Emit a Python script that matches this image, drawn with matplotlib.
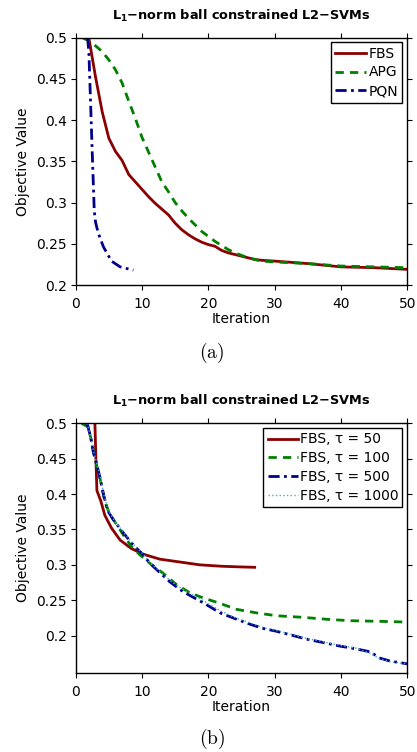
import matplotlib
matplotlib.use("Agg")
import matplotlib.pyplot as plt
from matplotlib.ticker import FormatStrFormatter

plt.rcParams["font.family"] = ["DejaVu Sans"]
plt.rcParams["mathtext.fontset"] = "dejavusans"

# ---- panel (a): FBS vs APG vs PQN ----
fbs_iter = [2, 3, 4, 5, 6, 7, 8, 9, 10, 11, 12, 13, 14, 15, 16, 17, 18, 19, 20,
            21, 22, 23, 24, 25, 26, 27, 28, 30, 35, 40, 45, 50]
fbs_obj = [0.499, 0.452, 0.410, 0.378, 0.362, 0.351, 0.334, 0.325, 0.316, 0.307,
           0.299, 0.292, 0.285, 0.275, 0.267, 0.261, 0.256, 0.252, 0.249, 0.247,
           0.242, 0.239, 0.237, 0.235, 0.233, 0.231, 0.230, 0.229, 0.226, 0.222,
           0.221, 0.219]

apg_iter = [1, 2, 3, 4, 5, 6, 7, 8, 9, 10, 11, 12, 13, 14, 15, 16, 17, 18, 19, 20,
            21, 22, 23, 24, 25, 26, 27, 28, 30, 35, 40, 45, 50]
apg_obj = [0.500, 0.496, 0.490, 0.483, 0.473, 0.461, 0.445, 0.423, 0.402, 0.379,
           0.361, 0.343, 0.325, 0.313, 0.300, 0.290, 0.281, 0.273, 0.265, 0.259,
           0.253, 0.248, 0.243, 0.239, 0.236, 0.233, 0.231, 0.229, 0.228, 0.226,
           0.223, 0.222, 0.221]

pqn_iter = [1.8, 2.0, 2.5, 2.8, 3.0, 3.4, 4.2, 5.4, 6.7, 8.7]
pqn_obj = [0.500, 0.480, 0.360, 0.290, 0.276, 0.263, 0.246, 0.229, 0.222, 0.218]

# ---- panel (b): FBS with different tau ----
tau50_iter = [2.9, 3.05, 3.2, 3.8, 4.4, 5.4, 6.7, 8.4, 10.2, 12.7, 15.7, 18.7,
              22.0, 25.0, 27.0]
tau50_obj = [0.500, 0.450, 0.405, 0.390, 0.370, 0.352, 0.335, 0.323, 0.315, 0.308,
             0.304, 0.300, 0.298, 0.297, 0.2965]

tau100_iter = [0.9, 1.9, 2.4, 2.9, 3.4, 3.9, 4.4, 5.2, 6.2, 7.2, 8.4, 9.7, 11.2,
               13.2, 15.2, 17.3, 19.3, 21.3, 24.3, 27.3, 30.3, 33.9, 37.9, 41.4,
               46.4, 50]
tau100_obj = [0.500, 0.495, 0.474, 0.450, 0.432, 0.413, 0.389, 0.370, 0.357, 0.342,
              0.326, 0.314, 0.302, 0.288, 0.272, 0.260, 0.253, 0.247, 0.237, 0.232,
              0.228, 0.226, 0.223, 0.221, 0.220, 0.219]

tau500_iter = [1.7, 2.2, 2.65, 3.2, 3.7, 4.2, 4.9, 5.9, 7.2, 8.7, 10.2, 11.2, 14.2,
               16.2, 19.3, 21.8, 24.3, 26.3, 28.3, 30.3, 32.8, 34.8, 37.4, 39.9,
               42.4, 44.4, 45.9, 47.4, 50]
tau500_obj = [0.500, 0.483, 0.460, 0.441, 0.422, 0.399, 0.375, 0.361, 0.345, 0.328,
              0.314, 0.302, 0.276, 0.262, 0.246, 0.232, 0.223, 0.216, 0.210, 0.206,
              0.200, 0.195, 0.190, 0.185, 0.181, 0.177, 0.168, 0.164, 0.160]

tau1000_iter = tau500_iter
tau1000_obj = [0.500, 0.484, 0.462, 0.443, 0.424, 0.401, 0.377, 0.362, 0.346, 0.329,
               0.315, 0.303, 0.278, 0.265, 0.249, 0.235, 0.224, 0.218, 0.211, 0.207,
               0.201, 0.196, 0.191, 0.186, 0.182, 0.175, 0.167, 0.163, 0.160]

RED = "#8b0000"
GREEN = "#008000"
BLUE = "#00008b"
CYAN = "#4aa8c8"

title = "L$_\\mathbf{1}$\u2212norm ball constrained L2\u2212SVMs"


def style_axes(ax, ymin):
    ax.set_xlim(0, 50)
    ax.set_ylim(ymin, 0.5)
    ax.set_xticks([0, 10, 20, 30, 40, 50])
    ax.set_yticks([0.2, 0.25, 0.3, 0.35, 0.4, 0.45, 0.5])
    ax.yaxis.set_major_formatter(FormatStrFormatter("%g"))
    ax.tick_params(direction="out", top=True, right=True, length=3.5,
                   width=0.8, labelsize=10)
    ax.tick_params(axis="x", pad=5)
    ax.tick_params(axis="y", pad=3)
    for sp in ax.spines.values():
        sp.set_linewidth(1.0)
    ax.set_xlabel("Iteration", fontsize=10, labelpad=1)
    ax.set_ylabel("Objective Value", fontsize=10, labelpad=4)
    ax.set_title(title, fontsize=9.3, fontweight="bold", pad=13)


fig = plt.figure(figsize=(4.17, 7.52), dpi=100)

ax1 = fig.add_axes([0.1815, 0.621, 0.795, 0.329])
ax1.plot(fbs_iter, fbs_obj, color=RED, lw=2.0, label="FBS")
ax1.plot(apg_iter, apg_obj, color=GREEN, lw=2.0, dashes=(3, 2.2), label="APG")
ax1.plot(pqn_iter, pqn_obj, color=BLUE, lw=2.0, dashes=(4, 1.6, 1, 1.6), label="PQN")
style_axes(ax1, 0.2)
leg1 = ax1.legend(loc="upper right", fontsize=10, handlelength=2.2,
                  handletextpad=0.2, labelspacing=0.35, borderpad=0.3,
                  borderaxespad=0.35, fancybox=False, framealpha=1)
leg1.get_frame().set_edgecolor("black")
leg1.get_frame().set_linewidth(1.0)

ax2 = fig.add_axes([0.1815, 0.105, 0.795, 0.332])
ax2.plot(tau50_iter, tau50_obj, color=RED, lw=2.0, label="FBS, \u03c4 = 50")
ax2.plot(tau100_iter, tau100_obj, color=GREEN, lw=2.0, dashes=(3, 2.2),
         label="FBS, \u03c4 = 100")
ax2.plot(tau500_iter, tau500_obj, color=BLUE, lw=2.0, dashes=(4, 1.6, 1, 1.6),
         label="FBS, \u03c4 = 500")
ax2.plot(tau1000_iter, tau1000_obj, color=CYAN, lw=1.0, linestyle=":",
         label="FBS, \u03c4 = 1000")
style_axes(ax2, 0.147)
leg2 = ax2.legend(loc="upper right", fontsize=10, handlelength=2.2,
                  handletextpad=0.1, labelspacing=0.35, borderpad=0.3,
                  borderaxespad=0.35, fancybox=False, framealpha=1)
leg2.get_frame().set_edgecolor("black")
leg2.get_frame().set_linewidth(1.0)

fig.text(0.508, 1 - 353 / 752, r"$\mathrm{(a)}$", ha="center", va="center",
         fontsize=14, math_fontfamily="cm")
fig.text(0.508, 1 - 739 / 752, r"$\mathrm{(b)}$", ha="center", va="center",
         fontsize=14, math_fontfamily="cm")

fig.savefig("out.png", dpi=100)
